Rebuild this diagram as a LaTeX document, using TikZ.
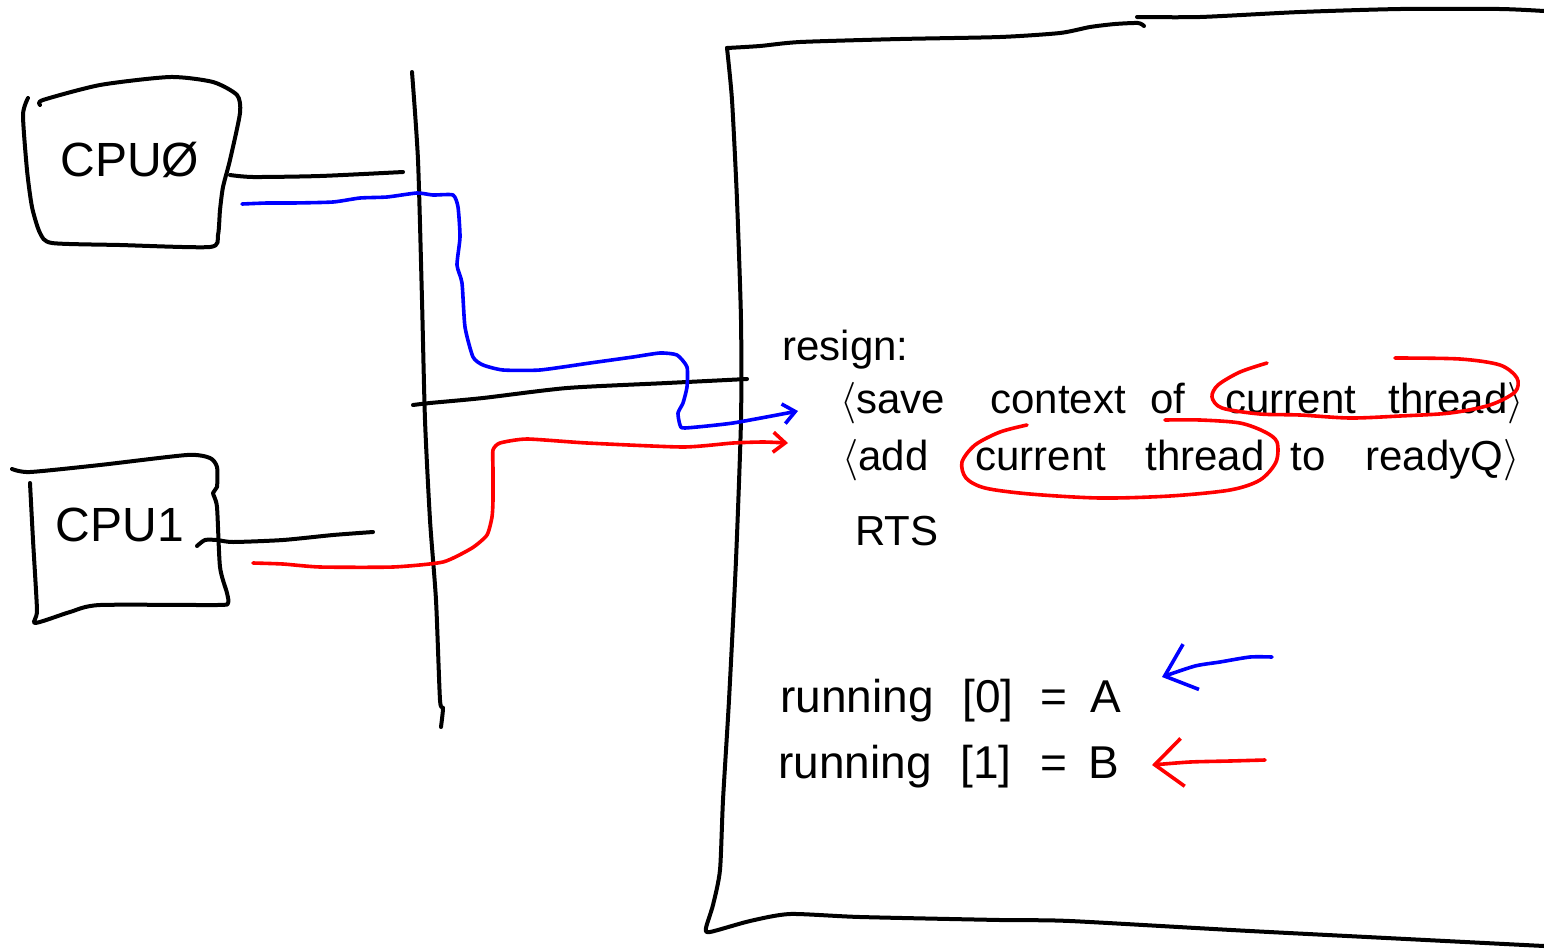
\documentclass[tikz,border=0pt]{standalone}
\usepackage{fontspec}
\setmainfont{Liberation Sans}
\usetikzlibrary{arrows.meta}
\definecolor{penblue}{RGB}{0,0,255}
\definecolor{penred}{RGB}{255,0,0}
\tikzset{
  pen/.style={line width=2pt, line cap=round, line join=round},
  bluepen/.style={pen, line width=1.8pt, draw=penblue},
  redpen/.style={pen, line width=1.8pt, draw=penred},
  hand/.style={inner sep=0pt, anchor=base west, font=\fontsize{21}{24}\selectfont},
  bighand/.style={inner sep=0pt, font=\fontsize{24}{28}\selectfont},
  runhand/.style={hand, font=\fontsize{23}{26}\selectfont},
  barb/.style={-{Straight Barb[length=6pt,width=10pt,line width=1.8pt]}},
  bigbarb/.style={-{Straight Barb[length=14pt,width=24pt,line width=1.8pt]}},
}
\begin{document}
\begin{tikzpicture}[x=0.5pt,y=-0.5pt]
\useasboundingbox (0,0) rectangle (1544,949);

% ---- CPU 0 ----
\draw[pen] plot[smooth,tension=0.4] coordinates {(28,98) (23,115) (27,170) (32,207) (40,233) (52,243) (120,245) (210,247) (218,235) (220,210) (223,187) (230,160) (240,113) (237,95) (213,82) (170,77) (100,85) (43,100) (40,105)};
\node[bighand] (cpu0) at (130,160) {CPUØ};
\coordinate (c0a) at (230,175);
\coordinate (c0b) at (403,172);
\draw[pen] plot[smooth,tension=0.4] coordinates {(c0a) (253,177) (320,176) (c0b)};

% ---- CPU 1 ----
\draw[pen] plot[smooth,tension=0.4] coordinates {(12,469) (30,472) (100,465) (187,455) (210,458) (217,467) (217,487) (213,493) (217,507) (220,567) (227,593) (228,603) (217,605) (100,605) (70,612) (35,623) (37,610) (33,540) (30,483)};
\node[bighand] (cpu1) at (120,525) {CPU1};
\coordinate (c1a) at (197,546);
\coordinate (c1b) at (373,532);
\draw[pen] plot[smooth,tension=0.4] coordinates {(c1a) (205,540) (217,540) (233,542) (283,540) (333,535) (c1b)};

% ---- bus ----
\draw[pen] plot[smooth,tension=0.4] coordinates {(412,72) (418,160) (422,300) (425,420) (430,520) (436,600) (440,700) (443,708) (441,727)};
\draw[pen] plot[smooth,tension=0.4] coordinates {(413,405) (430,403) (483,398) (567,388) (667,383) (747,379)};

% ---- memory ----
\draw[pen] plot[smooth,tension=0.4] coordinates {(727,48) (732,100) (737,200) (741,320) (741,420) (736,560) (729,700) (723,800) (720,870) (713,905) (706,928) (710,932) (750,921) (790,914) (860,917) (1000,920) (1070,921) (1250,931) (1544,946)};
\draw[pen] plot[smooth,tension=0.4] coordinates {(727,48) (760,46) (800,42) (900,39) (1000,37) (1060,33) (1090,27) (1115,24) (1138,23) (1144,26)};
\draw[pen] plot[smooth,tension=0.4] coordinates {(1137,17) (1200,17) (1300,12) (1400,9) (1500,9) (1544,11)};

% ---- code ----
\node[hand] (resign) at (782,360) {resign:};
\node[hand] (s1) at (840,413) {$\langle$save};
\node[hand] (s2) at (990,413) {context};
\node[hand] (s3) at (1150,413) {of};
\node[hand] (s4) at (1225,413) {current};
\node[hand] (s5) at (1388,413) {thread$\rangle$};
\node[hand] (a1) at (842,470) {$\langle$add};
\node[hand] (a2) at (975,470) {current};
\node[hand] (a3) at (1145,470) {thread};
\node[hand] (a4) at (1290,470) {to};
\node[hand] (a5) at (1365,470) {readyQ$\rangle$};
\node[hand] (rts) at (855,545) {RTS};

\node[runhand] (r0) at (780,712) {running};
\node[runhand] (r0i) at (962,712) {[0]};
\node[runhand] (r0e) at (1040,712) {=};
\node[runhand] (r0v) at (1090,712) {A};
\node[runhand] (r1) at (778,778) {running};
\node[runhand] (r1i) at (960,778) {[1]};
\node[runhand] (r1e) at (1040,778) {=};
\node[runhand] (r1v) at (1088,778) {B};

% ---- red loops around "current thread" ----
\draw[redpen] plot[smooth,tension=0.5] coordinates {(1267,363) (1240,372) (1218,385) (1212,397) (1222,408) (1260,414) (1300,415) (1350,418) (1400,416) (1450,413) (1490,405) (1515,392) (1517,378) (1500,365) (1460,359) (1395,358)};
\draw[redpen] plot[smooth,tension=0.5] coordinates {(1027,425) (1000,432) (975,445) (962,462) (966,478) (985,488) (1030,494) (1100,498) (1170,496) (1230,490) (1260,480) (1276,462) (1277,442) (1265,432) (1240,423) (1200,420) (1165,420)};

% ---- CPU paths into the code ----
\coordinate (bstart) at (242,204);
\coordinate (bend) at (798,411);
\draw[bluepen,barb] plot[smooth,tension=0.35] coordinates {(bstart) (267,203) (293,203) (333,202) (360,198) (387,197) (417,193) (433,195) (453,195) (458,207) (460,237) (457,265) (462,283) (465,327) (473,357) (483,365) (503,370) (540,370) (590,363) (633,357) (660,353) (677,355) (687,367) (687,387) (683,403) (678,413) (680,425) (685,428) (733,423) (bend)};
\coordinate (rstart) at (253,563);
\coordinate (rend) at (788,443);
\draw[redpen,barb] plot[smooth,tension=0.35] coordinates {(rstart) (283,564) (320,567) (393,567) (443,562) (472,548) (487,535) (492,517) (493,500) (493,470) (493,450) (500,443) (527,439) (587,443) (683,447) (733,443) (763,442) (rend)};

% ---- markers pointing at the running entries ----
\coordinate (ba) at (1272,657);
\draw[bluepen,bigbarb] plot[smooth,tension=0.4] coordinates {(ba) (1250,657) (1220,662) (1195,666) (1162,677)};
\coordinate (ra) at (1265,760);
\draw[redpen,bigbarb] plot[smooth,tension=0.4] coordinates {(ra) (1230,761) (1190,762) (1152,765)};
\end{tikzpicture}
\end{document}
